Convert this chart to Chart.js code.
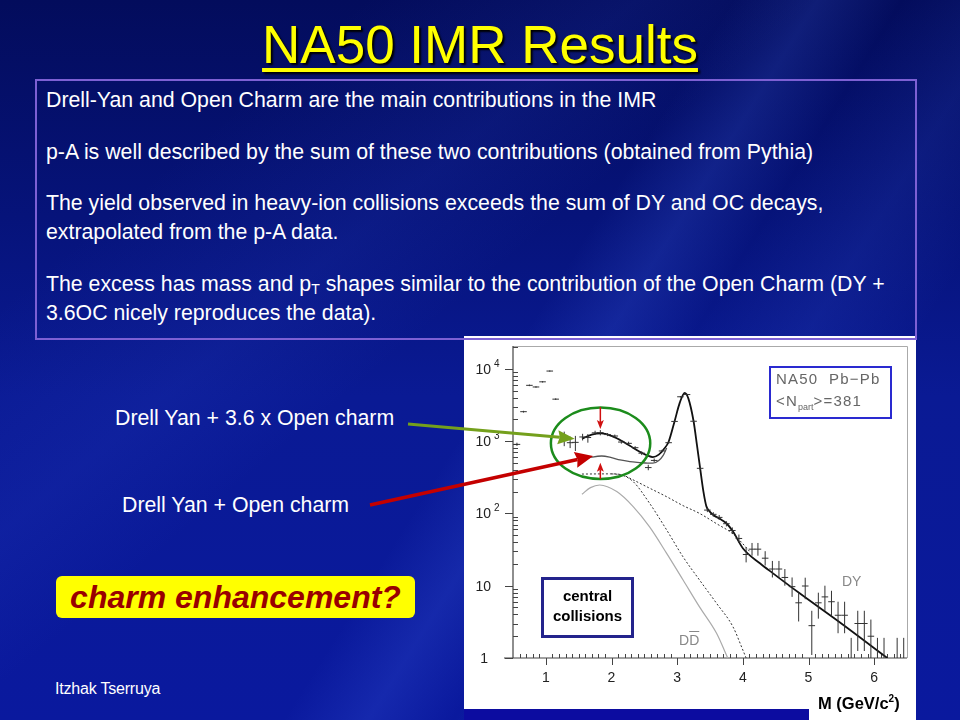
<!DOCTYPE html>
<html>
<head>
<meta charset="utf-8">
<script src="https://cdn.jsdelivr.net/npm/chart.js@4.4.0/dist/chart.umd.min.js"></script>
<style>
  html, body { margin: 0; padding: 0; }
  body {
    width: 960px; height: 720px; overflow: hidden; position: relative;
    font-family: "Liberation Sans", Arial, sans-serif;
    background:
      linear-gradient(122deg, rgba(0,0,0,0) 52%, rgba(80,120,255,0.16) 58%, rgba(0,0,0,0) 64%, rgba(80,120,255,0.10) 72%, rgba(0,0,0,0) 80%),
      linear-gradient(140deg, rgba(0,0,0,0) 20%, rgba(60,90,230,0.10) 35%, rgba(0,0,0,0) 45%),
      linear-gradient(to bottom, #030c5c 0%, #06137a 30%, #0a1a94 55%, #0a199e 100%);
  }
  .abs { position: absolute; }
  #title {
    left: 0; width: 960px; top: 14px; text-align: center;
    font-size: 53px; color: #ffff00; text-decoration: underline; text-decoration-thickness: 4px;
    text-underline-offset: 5px; text-shadow: 2px 2px 2px #000;
  }
  #textbox { left: 35px; top: 79px; width: 878px; height: 257px; border: 2px solid #7d60d4; }
  .line { left: 46px; color: #fff; font-size: 21.3px; white-space: nowrap; line-height: 29px; }
  .line sub { font-size: 14px; vertical-align: -3px; }
  #panel { left: 464px; top: 336px; width: 452px; height: 384px; background: #fff; }
  canvas { position: absolute; left: 0; top: 0; }
  .lbl { color: #fff; font-size: 21.3px; white-space: nowrap; }
  #charm {
    left: 56px; top: 576px; width: 359px; height: 42px; background: #ffff00; border-radius: 6px;
    color: #990000; font-weight: bold; font-style: italic; font-size: 32px; line-height: 42px; text-align: center;
  }
  #author { left: 55px; top: 680px; color: #fff; font-size: 16px; letter-spacing: -0.2px; }
  #legendbox {
    left: 769px; top: 366px; width: 114px; height: 49px; border: 2px solid #2a2ad0;
    color: #666; font-size: 15px; letter-spacing: 1.2px; line-height: 22px; padding-left: 5px; box-sizing: content-box;
    white-space: nowrap;
  }
  #legendbox sub { font-size: 9px; letter-spacing: 0; }
  #central {
    left: 541px; top: 577px; width: 87px; height: 49px; border: 3px solid #23238c;
    font-weight: bold; font-size: 15px; color: #000; text-align: center; line-height: 20px; padding-top: 6px;
  }
  .curvelbl { color: #888; font-size: 14px; }
  #xtitle { left: 818px; top: 693px; font-weight: bold; font-size: 16.5px; color: #000; }
  #xtitle sup { font-size: 10px; }
  #band { left: 464px; top: 709px; width: 345px; height: 11px; background: #0c0ca0; }
</style>
</head>
<body>
<div id="title" class="abs">NA50 IMR Results</div>
<div id="panel" class="abs"></div>
<div id="textbox" class="abs"></div>
<div class="abs line" style="top:86px">Drell-Yan and Open Charm are the main contributions in the IMR</div>
<div class="abs line" style="top:138px">p-A is well described by the sum of these two contributions (obtained from Pythia)</div>
<div class="abs line" style="top:189px">The yield observed in heavy-ion collisions exceeds the sum of DY and OC decays,</div>
<div class="abs line" style="top:218px">extrapolated from the p-A data.</div>
<div class="abs line" style="top:270px">The excess has mass and p<sub>T</sub> shapes similar to the contribution of the Open Charm (DY +</div>
<div class="abs line" style="top:299px">3.6OC nicely reproduces the data).</div>

<div class="abs lbl" style="left:115px; top:406px">Drell Yan + 3.6 x Open charm</div>
<div class="abs lbl" style="left:122px; top:493px">Drell Yan + Open charm</div>
<div id="charm" class="abs">charm enhancement?</div>
<div id="author" class="abs">Itzhak Tserruya</div>

<canvas id="imrChart" width="960" height="720"></canvas>

<div id="legendbox" class="abs">NA50&nbsp; Pb−Pb<br>&lt;N<sub>part</sub>&gt;=381</div>
<div id="central" class="abs">central<br>collisions</div>
<div class="abs curvelbl" style="left:842px; top:573px">DY</div>
<div class="abs curvelbl" style="left:679px; top:632px">D<span style="text-decoration:overline">D</span></div>
<div id="band" class="abs"></div>
<div id="xtitle" class="abs">M (GeV/c<sup>2</sup>)</div>

<script>
// Measured Pb-Pb dimuon spectrum (mass bins, counts and error bar ends)
const massBins = [0.56, 0.66, 0.75, 0.85, 0.95, 1.06, 1.15, 1.28, 1.37, 1.45, 1.56, 1.64, 1.75, 1.83, 1.94, 2.05,
  2.15, 2.26, 2.36, 2.46, 2.56, 2.65, 2.77, 2.87, 2.96, 3.05, 3.15, 3.25, 3.35, 3.46, 3.55, 3.64, 3.75, 3.84, 3.94,
  4.05, 4.14, 4.23, 4.34, 4.45, 4.55, 4.64, 4.75, 4.85, 4.95, 5.05, 5.15, 5.25, 5.35, 5.45, 5.55, 5.65, 5.75, 5.85,
  5.95, 6.05, 6.15, 6.35, 6.45];
const counts = [900, 2550, 5900, 5600, 6600, 9300, 3800, 1150, 950, 960, 1140, 1120, 1300, 1310, 1230, 1175,
  970, 930, 810, 680, 430, 540, 730, 950, 1870, 4100, 4400, 1880, 420, 111, 97, 88, 72, 58, 45,
  27, 32, 32, 24, 17, 17, 13, 9.7, 5.8, 9.9, 2.8, 5.8, 7, 6, 3.9, 3.9, 0.9, 3.0, 3.0,
  2.0, 0.9, 0.9, 0.9, 0.9];
const countsLow = [860, 2480, 5750, 5450, 6450, 9100, 3700, 850, 800, 730, 1020, 950, 1220, 1200, 1170, 1120,
  920, 880, 770, 640, 395, 510, 700, 920, 1830, 4000, 4300, 1840, 400, 104, 90, 81, 66, 52, 39,
  21, 26, 26, 19, 13, 13, 10, 7, 3.2, 6.5, 1.1, 3.5, 4.5, 3.8, 2.2, 2.2, 0.3, 1.25, 1.25,
  1.0, 0.3, 0.3, 0.3, 0.3];
const countsHigh = [950, 2620, 6050, 5750, 6750, 9500, 3900, 1350, 1150, 1180, 1260, 1250, 1390, 1420, 1290, 1230,
  1020, 980, 850, 720, 470, 575, 760, 980, 1910, 4200, 4500, 1920, 440, 118, 104, 95, 78, 64, 51,
  34, 39, 39, 30, 22, 22, 17, 13, 8, 12.9, 4.5, 8, 10, 8.5, 6, 6, 1.9, 4.5, 4.5,
  3.4, 1.9, 1.9, 1.9, 1.9];

// Fit curves
const fitMass = [1.55, 1.7, 1.85, 2.0, 2.13, 2.28, 2.43, 2.55, 2.63, 2.72, 2.79, 2.87, 2.96, 3.04, 3.115, 3.17,
  3.25, 3.3, 3.35, 3.4, 3.445, 3.5, 3.55, 3.65, 3.75, 3.85, 4.0, 4.26, 4.46, 4.86, 5.5, 6.2];
const fitTotal = [1080, 1230, 1280, 1180, 1035, 860, 713, 630, 600, 650, 760, 980, 1870, 3400, 4650, 3900,
  1880, 900, 420, 200, 125, 105, 95, 84, 73, 56, 33, 20.4, 14.8, 7.9, 3.0, 1.0];
const pAMass = [1.55, 1.7, 1.85, 2.0, 2.13, 2.28, 2.43, 2.55, 2.63, 2.72, 2.79, 2.84];
const fitPA = [560, 600, 622, 590, 548, 520, 505, 495, 495, 540, 640, 800];
const dyMass = [1.55, 1.98, 2.18, 2.28, 2.56, 2.84, 3.09, 3.34, 3.6, 3.85, 4.0, 4.1];
const dyCurve = [350, 352, 338, 306, 228, 170, 128, 100, 72, 52, 38, 30];
const ocMass = [2.0, 2.15, 2.33, 2.58, 2.84, 3.09, 3.34, 3.6, 3.85, 4.0, 4.05];
const ocCurve = [352, 340, 275, 138, 59, 25, 12, 5.7, 2.7, 1.29, 1.0];
const ddMass = [1.55, 1.68, 1.82, 2.08, 2.33, 2.58, 2.84, 3.09, 3.34, 3.6, 3.77];
const ddCurve = [184, 227, 247, 200, 124, 65, 28, 12, 5.1, 2.2, 1.0];

// Axis ticks
const xTickValues = [1, 2, 3, 4, 5, 6];
const yTickValues = [1, 10, 100, 1000, 10000];
const yTickExp = ['', '', '2', '3', '4'];

function pts(xs, ys) {
  return xs.map((x, i) => ({ x: x, y: ys[i] }));
}

function arrow(ctx, x0, y0, x1, y1, color, lw, hl, hw) {
  const a = Math.atan2(y1 - y0, x1 - x0);
  const bx = x1 - hl * Math.cos(a), by = y1 - hl * Math.sin(a);
  ctx.strokeStyle = color;
  ctx.lineWidth = lw;
  ctx.beginPath();
  ctx.moveTo(x0, y0);
  ctx.lineTo(bx, by);
  ctx.stroke();
  ctx.fillStyle = color;
  ctx.beginPath();
  ctx.moveTo(x1, y1);
  ctx.lineTo(bx + hw * Math.sin(a) - 2 * Math.cos(a), by - hw * Math.cos(a) - 2 * Math.sin(a));
  ctx.lineTo(bx, by);
  ctx.lineTo(bx - hw * Math.sin(a) - 2 * Math.cos(a), by + hw * Math.cos(a) - 2 * Math.sin(a));
  ctx.closePath();
  ctx.fill();
}

// Frame, axes, ticks and labels
const axesPlugin = {
  id: 'axes',
  beforeDatasetsDraw(chart) {
    const ctx = chart.ctx, a = chart.chartArea;
    const xs = chart.scales.x, ys = chart.scales.y;
    ctx.save();
    ctx.strokeStyle = '#aaa';
    ctx.lineWidth = 1;
    ctx.beginPath();
    ctx.moveTo(a.left, a.top + 0.5);
    ctx.lineTo(a.right + 0.5, a.top + 0.5);
    ctx.lineTo(a.right + 0.5, a.bottom);
    ctx.stroke();

    ctx.strokeStyle = '#444';
    ctx.lineWidth = 1.2;
    ctx.beginPath();
    ctx.moveTo(a.left, a.top);
    ctx.lineTo(a.left, a.bottom);
    ctx.moveTo(a.left - 9, a.bottom);
    ctx.lineTo(a.right, a.bottom);
    ctx.stroke();

    ctx.lineWidth = 1;
    ctx.beginPath();
    // y ticks: decades outward, 2..9 inward
    yTickValues.forEach(v => {
      const py = Math.round(ys.getPixelForValue(v)) + 0.5;
      ctx.moveTo(a.left - 8, py);
      ctx.lineTo(a.left, py);
      for (let m = 2; m <= 9; m++) {
        const val = v * m;
        if (val > ys.max) break;
        const pm = Math.round(ys.getPixelForValue(val)) + 0.5;
        ctx.moveTo(a.left, pm);
        ctx.lineTo(a.left + 5, pm);
      }
    });
    // x ticks: integers outward, tenths inward
    for (let t = 6; t <= 64; t++) {
      const px = Math.round(xs.getPixelForValue(t / 10)) + 0.5;
      if (t % 10 === 0) {
        ctx.moveTo(px, a.bottom);
        ctx.lineTo(px, a.bottom + 7);
      } else {
        ctx.moveTo(px, a.bottom);
        ctx.lineTo(px, a.bottom - 4);
      }
    }
    ctx.stroke();

    ctx.fillStyle = '#222';
    ctx.font = '14px "Liberation Sans", Arial, sans-serif';
    ctx.textBaseline = 'middle';
    ctx.textAlign = 'center';
    xTickValues.forEach(v => {
      ctx.fillText(String(v), xs.getPixelForValue(v), a.bottom + 20);
    });
    yTickValues.forEach((v, k) => {
      const py = ys.getPixelForValue(v);
      const base = v === 1 ? '1' : '10';
      ctx.textAlign = 'right';
      ctx.font = '14px "Liberation Sans", Arial, sans-serif';
      ctx.fillText(base, v === 1 ? a.left - 25 : a.left - 22, py + 1);
      if (yTickExp[k]) {
        ctx.textAlign = 'left';
        ctx.font = '10px "Liberation Sans", Arial, sans-serif';
        ctx.fillText(yTickExp[k], a.left - 19, py - 5);
      }
    });
    ctx.restore();
  }
};

// Data points drawn as crosses: bin width horizontally, error bar vertically
const crossPlugin = {
  id: 'crosses',
  afterDatasetsDraw(chart) {
    const ctx = chart.ctx, a = chart.chartArea;
    const xs = chart.scales.x, ys = chart.scales.y;
    ctx.save();
    ctx.beginPath();
    ctx.rect(a.left, a.top, a.right - a.left, a.bottom - a.top);
    ctx.clip();
    ctx.strokeStyle = '#333';
    ctx.lineWidth = 1;
    ctx.beginPath();
    massBins.forEach((m, i) => {
      const px = xs.getPixelForValue(m);
      const py = ys.getPixelForValue(counts[i]);
      ctx.moveTo(xs.getPixelForValue(m - 0.05), py);
      ctx.lineTo(xs.getPixelForValue(m + 0.05), py);
      ctx.moveTo(px, ys.getPixelForValue(countsLow[i]));
      ctx.lineTo(px, ys.getPixelForValue(countsHigh[i]));
    });
    ctx.stroke();
    ctx.restore();
  }
};

// Highlight ellipse and arrows pointing at the two fits
const notePlugin = {
  id: 'notes',
  afterDraw(chart) {
    const ctx = chart.ctx;
    const xs = chart.scales.x, ys = chart.scales.y;
    ctx.save();
    const x0 = xs.getPixelForValue(1.077), x1 = xs.getPixelForValue(2.59);
    const y0 = ys.getPixelForValue(2917), y1 = ys.getPixelForValue(298);
    ctx.strokeStyle = '#1c8c1c';
    ctx.lineWidth = 2.5;
    ctx.beginPath();
    ctx.ellipse((x0 + x1) / 2, (y0 + y1) / 2, (x1 - x0) / 2, (y1 - y0) / 2, 0, 0, Math.PI * 2);
    ctx.stroke();

    const mx = xs.getPixelForValue(1.83);
    arrow(ctx, mx, ys.getPixelForValue(2950), mx, ys.getPixelForValue(1470), '#d01010', 1.5, 7, 3.5);
    arrow(ctx, mx, ys.getPixelForValue(299), mx, ys.getPixelForValue(500), '#d01010', 1.5, 7, 3.5);

    arrow(ctx, 408, 424, xs.getPixelForValue(1.44), ys.getPixelForValue(1080), '#74a01c', 3, 15, 7);
    arrow(ctx, 370, 505, xs.getPixelForValue(1.72), ys.getPixelForValue(622), '#c40000', 3.5, 16, 8);
    ctx.restore();
  }
};

function initChart() {
  const ctx = document.getElementById('imrChart').getContext('2d');
  new Chart(ctx, {
    type: 'line',
    data: {
      datasets: [
        { data: pts(ddMass, ddCurve), borderColor: '#aaa', borderWidth: 1.2 },
        { data: pts(ocMass, ocCurve), borderColor: '#333', borderWidth: 1, borderDash: [2, 2] },
        { data: pts(dyMass, dyCurve), borderColor: '#333', borderWidth: 1, borderDash: [2, 2] },
        { data: pts(pAMass, fitPA), borderColor: '#555', borderWidth: 1.3 },
        { data: pts(fitMass, fitTotal), borderColor: '#111', borderWidth: 1.8 }
      ]
    },
    options: {
      responsive: false,
      animation: false,
      devicePixelRatio: 1,
      layout: { padding: { left: 513, top: 346, right: 53, bottom: 62 } },
      elements: {
        point: { radius: 0 },
        line: { cubicInterpolationMode: 'monotone', fill: false }
      },
      scales: {
        x: { type: 'linear', min: 0.5, max: 6.5, display: false },
        y: { type: 'logarithmic', min: 1, max: 20650, display: false }
      },
      plugins: { legend: { display: false }, tooltip: { enabled: false } }
    },
    plugins: [axesPlugin, crossPlugin, notePlugin]
  });
}

window.onload = initChart;
</script>
</body>
</html>
